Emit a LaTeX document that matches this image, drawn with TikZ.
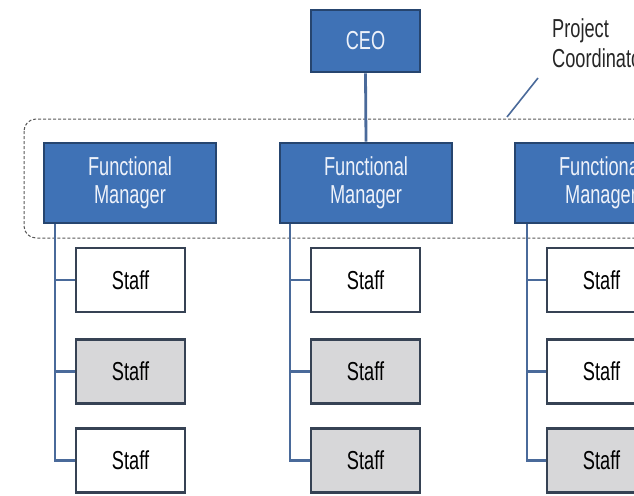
\documentclass[tikz,border=0pt]{standalone}
\usepackage{fontspec}
\usetikzlibrary{backgrounds}
\setmainfont{Liberation Sans}[FakeStretch=0.7]
\definecolor{fmfill}{HTML}{3F72B6}
\definecolor{fmborder}{HTML}{26456F}
\definecolor{stborder}{HTML}{364254}
\definecolor{stgray}{HTML}{D7D7D9}
\definecolor{conn}{HTML}{4A6A9A}
\definecolor{fmtext}{HTML}{EEF2FA}
\tikzset{
  ceobox/.style={draw=fmborder, fill=fmfill, line width=2.8pt, minimum width=109pt, minimum height=62pt, inner sep=0pt, text=fmtext, font=\fontsize{26}{28}\selectfont},
  fmbox/.style={draw=fmborder, fill=fmfill, line width=2.8pt, minimum width=172pt, minimum height=80pt, inner sep=0pt, align=center, text=fmtext, font=\fontsize{26}{28}\selectfont},
  staffbox/.style={draw=stborder, fill=white, line width=2.8pt, minimum width=109pt, minimum height=64pt, inner sep=0pt, text=black, font=\fontsize{26}{28}\selectfont},
  graybox/.style={staffbox, fill=stgray},
  link/.style={draw=conn, line width=2.8pt},
  grouprect/.style={draw=black!65, dash pattern=on 3pt off 2pt, line width=1pt, rounded corners=12pt},
  pointer/.style={draw=conn, line width=1.6pt},
  note/.style={anchor=base west, align=left, inner sep=0pt, text=black!85, font=\fontsize{26}{30}\selectfont}
}
\begin{document}
\begin{tikzpicture}[x=1pt,y=-1pt]
\useasboundingbox (0,0) rectangle (634,495);
\clip (0,0) rectangle (634,495);

% nodes
\node[ceobox] (ceo) at (365.5,41) {CEO};
\node[fmbox] (fm1) at (130,183) {Functional\\Manager};
\node[fmbox] (fm2) at (366,183) {Functional\\Manager};
\node[fmbox] (fm3) at (601,183) {Functional\\Manager};

\node[staffbox] (s11) at (130.5,280) {Staff};
\node[graybox]  (s12) at (130.5,371.5) {Staff};
\node[staffbox] (s13) at (130.5,460.5) {Staff};
\node[staffbox] (s21) at (365.5,280) {Staff};
\node[graybox]  (s22) at (365.5,371.5) {Staff};
\node[graybox]  (s23) at (365.5,460.5) {Staff};
\node[staffbox] (s31) at (601.5,280) {Staff};
\node[staffbox] (s32) at (601.5,371.5) {Staff};
\node[graybox]  (s33) at (601.5,460.5) {Staff};

\node[note] (pc) at (552,67) {Project\\Coordinator};
\coordinate (pa) at (507,117);
\coordinate (pb) at (538,78);
\draw[pointer] (pa) -- (pb);

\begin{scope}[on background layer]
\fill[white] (0,0) rectangle (634,495);
% project coordination group
\draw[grouprect] (24,119) rectangle (690,238);
% connectors
\draw[link] (ceo.south) -- (fm2.north);
\foreach \c/\x in {1/55,2/290,3/527}{
  \draw[link] (fm\c.south -| {(\x,0)}) |- (s\c3.west);
  \draw[link] (s\c1.west -| {(\x,0)}) -- (s\c1.west);
  \draw[link] (s\c2.west -| {(\x,0)}) -- (s\c2.west);
}
\end{scope}
\end{tikzpicture}
\end{document}
